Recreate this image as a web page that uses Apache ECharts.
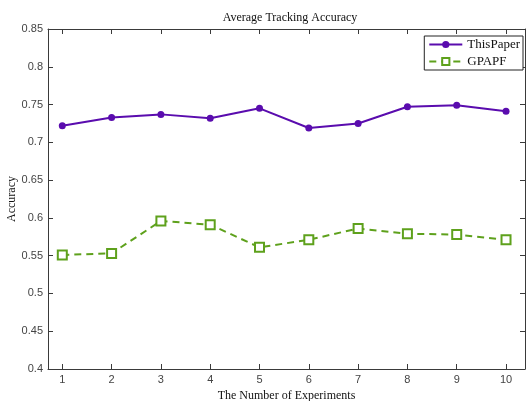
<!DOCTYPE html>
<html>
<head>
<meta charset="utf-8">
<script src="https://cdn.jsdelivr.net/npm/echarts@6/dist/echarts.min.js"></script>
<style>
  html, body { margin: 0; padding: 0; background: #fff; }
  #chart { width: 526px; height: 401px; }
</style>
</head>
<body>
<div id="chart"></div>
<script>
// Experiment index and mean accuracy per method
const experiments = [1, 2, 3, 4, 5, 6, 7, 8, 9, 10];
const thisPaper = [0.722, 0.733, 0.737, 0.732, 0.745, 0.719, 0.725, 0.747, 0.749, 0.741];
const gpapf = [0.551, 0.553, 0.596, 0.591, 0.561, 0.571, 0.586, 0.579, 0.578, 0.571];

const serif = '"Liberation Serif", "Times New Roman", serif';
const sans = '"Liberation Sans", Arial, sans-serif';
const frameColor = '#3a3a3a';

const chart = echarts.init(document.getElementById('chart'), null, { renderer: 'canvas' });

const pairs = (ys) => experiments.map((x, i) => [x, ys[i]]);

chart.setOption({
  animation: false,
  backgroundColor: '#ffffff',
  title: {
    text: 'Average Tracking Accuracy',
    left: 285, top: 7, textAlign: 'center',
    textStyle: { fontFamily: serif, fontSize: 12, fontWeight: 'normal', color: '#111' }
  },
  legend: {
    right: 3, top: 36,
    orient: 'vertical',
    backgroundColor: '#fff',
    borderColor: '#222', borderWidth: 1, borderRadius: 0,
    padding: [2, 3, 2, 4],
    itemGap: 4,
    itemWidth: 33, itemHeight: 9,
    textStyle: { fontFamily: serif, fontSize: 13, color: '#111' },
    data: ['ThisPaper', 'GPAPF']
  },
  grid: { left: 48, right: 1, top: 29, bottom: 32, containLabel: false, outerBoundsMode: 'none' },
  xAxis: [{
    type: 'value', min: 0.71, max: 10.385,
    name: 'The Number of Experiments', nameLocation: 'middle', nameGap: 20,
    nameTextStyle: { fontFamily: serif, fontSize: 12, color: '#111' },
    axisLine: { lineStyle: { color: frameColor, width: 1 } },
    axisTick: { inside: true, length: 5, lineStyle: { color: frameColor }, customValues: experiments },
    axisLabel: { fontFamily: sans, fontSize: 11, color: '#444', margin: 5, customValues: experiments },
    splitLine: { show: false }
  }, {
    type: 'value', min: 0.71, max: 10.385, position: 'top',
    axisLine: { lineStyle: { color: frameColor, width: 1 } },
    axisTick: { inside: true, length: 5, lineStyle: { color: frameColor }, customValues: experiments },
    axisLabel: { show: false },
    splitLine: { show: false }
  }],
  yAxis: [{
    type: 'value', min: 0.4, max: 0.85, interval: 0.05,
    name: 'Accuracy', nameLocation: 'middle', nameGap: 30, nameRotate: 90, nameMoveOverlap: false,
    nameTextStyle: { fontFamily: serif, fontSize: 12, color: '#111' },
    axisLine: { show: true, lineStyle: { color: frameColor, width: 1 } },
    axisTick: { show: true, inside: true, length: 5, lineStyle: { color: frameColor } },
    axisLabel: { fontFamily: sans, fontSize: 11, color: '#444', margin: 5,
      formatter: (v) => String(Math.round(v * 100) / 100) },
    splitLine: { show: false }
  }, {
    type: 'value', min: 0.4, max: 0.85, interval: 0.05, position: 'right',
    axisLine: { show: true, lineStyle: { color: frameColor, width: 1 } },
    axisTick: { show: true, inside: true, length: 5, lineStyle: { color: frameColor } },
    axisLabel: { show: false },
    splitLine: { show: false }
  }],
  series: [{
    name: 'ThisPaper',
    type: 'line',
    data: pairs(thisPaper),
    symbol: 'circle', symbolSize: 7,
    itemStyle: { color: '#5a0cae' },
    lineStyle: { color: '#5a0cae', width: 2 }
  }, {
    name: 'GPAPF',
    type: 'line',
    data: pairs(gpapf),
    symbol: 'rect', symbolSize: 9,
    itemStyle: { color: '#ffffff', borderColor: '#5ea11c', borderWidth: 2 },
    lineStyle: { color: '#5ea11c', width: 2, type: [7, 5] }
  }]
});
</script>
</body>
</html>
